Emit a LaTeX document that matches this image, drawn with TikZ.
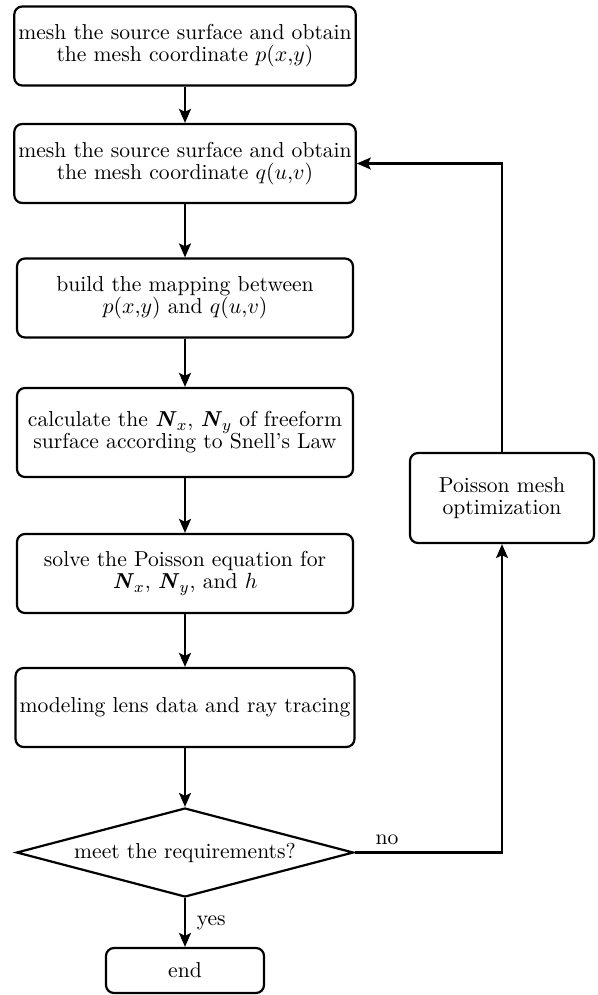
\documentclass[tikz,border=0pt]{standalone}
\usetikzlibrary{shapes.geometric,arrows.meta}
\newcommand{\bN}{\textbf{\textit{N}}}
\tikzset{
  stepbox/.style={draw,line width=1.1pt,rounded corners=4pt,align=center,
    inner sep=2pt,minimum width=168pt,minimum height=39.5pt},
  testbox/.style={draw,line width=1.1pt,diamond,aspect=3.8,inner sep=0pt,
    minimum width=168.5pt,minimum height=44.5pt},
  arr/.style={line width=1.1pt,-{Stealth[length=7pt,width=6pt,inset=1.5pt]}}
}
\begin{document}
\begin{tikzpicture}[x=0.5pt,y=-0.5pt,font=\fontsize{10.8}{11}\selectfont]
\useasboundingbox (0,0) rectangle (598,995);

\node[stepbox] (mesha) at (185,46) {mesh the source surface and obtain\\the mesh coordinate $p(x{,}y)$};
\node[stepbox] (meshb) at (185,163.5) {mesh the source surface and obtain\\the mesh coordinate $q(u{,}v)$};
\node[stepbox] (mapping) at (185,298) {build the mapping between\\$p(x{,}y)$ and $q(u{,}v)$};
\node[stepbox,minimum height=44.5pt] (normal) at (185,432.5) {calculate the \bN$_x$, \bN$_y$ of freeform\\surface according to Snell's Law};
\node[stepbox] (poisson) at (185,573.5) {solve the Poisson equation for\\\bN$_x$, \bN$_y$, and $h$};
\node[stepbox] (tracing) at (185,707.5) {modeling lens data and ray tracing};
\node[testbox] (test) at (185,852.5) {meet the requirements?};
\node[stepbox,minimum width=79pt,minimum height=22.5pt] (finish) at (185,970.5) {end};
\node[stepbox,minimum width=92pt,minimum height=45pt] (optim) at (502,498) {Poisson mesh\\optimization};

\draw[arr] (mesha) -- (meshb);
\draw[arr] (meshb) -- (mapping);
\draw[arr] (mapping) -- (normal);
\draw[arr] (normal) -- (poisson);
\draw[arr] (poisson) -- (tracing);
\draw[arr] (tracing) -- (test);
\draw[arr] (test) -- node[right=2pt] {yes} (finish);
\draw[arr] (test.east) -| node[pos=0.11,above] {no} (optim.south);
\draw[arr] (optim.north) |- (meshb.east);
\end{tikzpicture}
\end{document}
